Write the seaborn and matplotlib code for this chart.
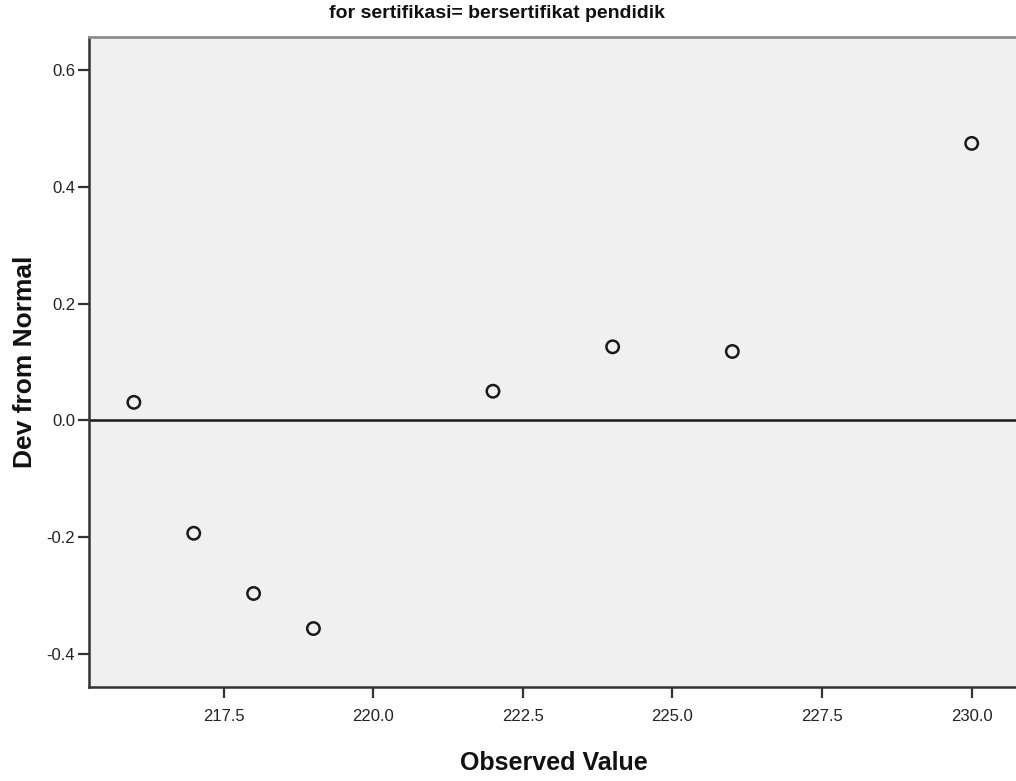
import matplotlib
matplotlib.use("Agg")
import matplotlib.pyplot as plt
import seaborn as sns
import pandas as pd

observed = [216, 217, 218, 219, 222, 224, 226, 230]
dev_from_normal = [0.031, -0.193, -0.296, -0.356, 0.050, 0.126, 0.118, 0.474]
x_ticks = [217.5, 220.0, 222.5, 225.0, 227.5, 230.0]
y_ticks = [-0.4, -0.2, 0.0, 0.2, 0.4, 0.6]
title = "for sertifikasi= bersertifikat pendidik"

sns.set_style("white")
plt.rcParams['font.family'] = ['Liberation Sans', 'DejaVu Sans']

df = pd.DataFrame({"Observed Value": observed, "Dev from Normal": dev_from_normal})

fig = plt.figure(figsize=(10.16, 7.81), dpi=100)
ax = fig.add_axes([89/1016, 94/781, 1 - 89/1016, 650/781])
ax.set_facecolor("#f0f0f0")

ax.axhline(0, color="#1a1a1a", lw=1.8, zorder=1)
sns.scatterplot(data=df, x="Observed Value", y="Dev from Normal", ax=ax,
                marker="o", s=80, facecolor="none", edgecolor="#1a1a1a",
                linewidth=1.8, zorder=3)

ax.set_xlim(215.25, 230.74)
ax.set_ylim(-0.456, 0.656)
ax.set_xticks(x_ticks)
ax.set_xticklabels([f"{v:.1f}" for v in x_ticks])
ax.set_yticks(y_ticks)
ax.set_yticklabels([f"{v:.1f}" for v in y_ticks])
ax.tick_params(axis="both", direction="out", length=8, width=1.6, color="#333333",
               labelsize=12, labelcolor="#222222", left=True, bottom=True)
ax.tick_params(axis="x", pad=7.5)
ax.tick_params(axis="y", pad=2)

for side in ["left", "bottom"]:
    ax.spines[side].set_color("#333333")
    ax.spines[side].set_linewidth(1.8)
ax.spines["top"].set_color("#8c8c8c")
ax.spines["top"].set_linewidth(2.0)
ax.spines["right"].set_visible(False)

ax.set_xlabel("")
ax.set_ylabel("")
fig.text(554/1016, 1 - 763/781, "Observed Value", ha="center", va="center",
         fontsize=18, fontweight="bold", color="#111111")
fig.text(25/1016, 1 - 362/781, "Dev from Normal", ha="center", va="center",
         rotation=90, fontsize=19, fontweight="bold", color="#111111")
fig.text(497/1016, 1 - 14/781, title, ha="center", va="center",
         fontsize=14, fontweight="bold", color="#111111")

fig.savefig("out.png", dpi=100)
